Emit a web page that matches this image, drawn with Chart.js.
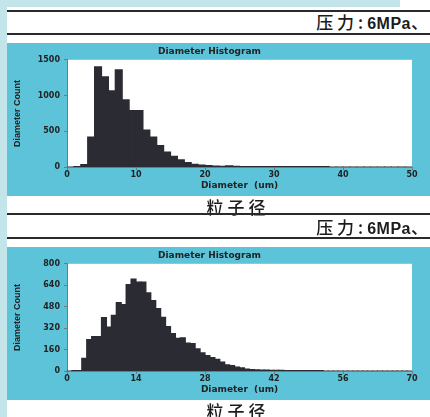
<!DOCTYPE html>
<html>
<head>
<meta charset="utf-8">
<script src="https://cdn.jsdelivr.net/npm/chart.js@4.4.1/dist/chart.umd.min.js"></script>
<style>
  html, body { margin: 0; padding: 0; }
  body { width: 430px; height: 417px; overflow: hidden; position: relative; background: #ffffff; }
  .edgeTop { position: absolute; left: 0; top: 0; width: 400px; height: 7px; background: #c3e4e9; }
  .edgeLeft { position: absolute; left: 0; top: 0; width: 7px; height: 417px; background: #c3e4e9; }
  .rule { position: absolute; left: 7px; width: 423px; height: 2px; background: #2a2a2a; }
  .press { position: absolute; right: 2px; height: 22px; line-height: 22px; font-size: 17px; color: #1c1c1c;
           font-family: "Noto Sans CJK SC", sans-serif; font-weight: 500; }
  .press .cjk { letter-spacing: 4px; }
  .press b { font-family: "Liberation Sans", Arial, sans-serif; font-weight: bold; font-size: 16px; letter-spacing: 0.5px; }
  .panel { position: absolute; left: 7px; width: 423px; height: 153px; background: #5dc3d9; }
  .label { position: absolute; left: 7px; width: 462px; text-align: center; font-size: 17px; line-height: 20px;
           letter-spacing: 4px; color: #1c1c1c; font-family: "Noto Sans CJK SC", sans-serif; font-weight: 500; }
</style>
</head>
<body>
<div class="edgeTop"></div>
<div class="edgeLeft"></div>

<div class="rule" style="top:10px"></div>
<div class="press" style="top:11px"><span class="cjk">压力:</span><b>6MPa</b>、</div>
<div class="rule" style="top:33px"></div>
<div class="panel" style="top:43px"><canvas id="chart1" width="423" height="153"></canvas></div>
<div class="label" style="top:197px">粒子径</div>

<div class="rule" style="top:213px"></div>
<div class="press" style="top:216px"><span class="cjk">压力:</span><b>6MPa</b>、</div>
<div class="rule" style="top:237px"></div>
<div class="panel" style="top:247px"><canvas id="chart2" width="423" height="153"></canvas></div>
<div class="label" style="top:401px">粒子径</div>

<script>
// histogram 1: 1 um bins from 0 to 50
const counts1 = [0, 3, 35, 420, 1400, 1260, 1065, 1360, 940, 790,
                 790, 515, 420, 300, 210, 150, 100, 60, 38, 25,
                 18, 12, 8, 15, 8, 5, 4, 3, 3, 4,
                 2, 2, 2, 1, 1, 1, 1, 1, 0, 0,
                 0, 0, 0, 0, 0, 0, 0, 0, 0, 0];
const yTicks1 = [0, 500, 1000, 1500];
const xTicks1 = [0, 10, 20, 30, 40, 50];

// histogram 2: 1 um bins from 0 to 70
const counts2 = [0, 2, 3, 95, 234, 257, 257, 399, 327, 416,
                 511, 495, 645, 685, 663, 663, 584, 526, 466, 401,
                 332, 279, 244, 247, 209, 204, 165, 135, 115, 100,
                 87, 67, 45, 40, 30, 24, 15, 10, 8, 7,
                 6, 5, 4, 4, 3, 2, 2, 1, 1, 1,
                 1, 1, 0, 0, 0, 0, 0, 0, 0, 0,
                 0, 0, 0, 0, 0, 0, 0, 0, 0, 0];
const yTicks2 = [0, 160, 320, 480, 640, 800];
const xTicks2 = [0, 14, 28, 42, 56, 70];

const titleText = 'Diameter Histogram';
const xTitle = 'Diameter  (um)';
const yTitle = 'Diameter Count';

// fondo blanco del área de trazado
const plotBg = {
  id: 'plotBg',
  beforeDraw(chart) {
    const { ctx, chartArea: a } = chart;
    ctx.save();
    ctx.fillStyle = '#ffffff';
    ctx.fillRect(a.left, a.top, a.right - a.left, a.bottom - a.top);
    ctx.restore();
  }
};

function makeHist(id, counts, xTicks, yTicks) {
  const data = counts.map((c, i) => ({ x: i + 0.5, y: c }));
  const tickFont = { family: 'DejaVu Sans', size: 8, weight: 'bold' };
  return new Chart(document.getElementById(id), {
    type: 'bar',
    data: {
      datasets: [{
        data: data,
        backgroundColor: '#2b2b33',
        borderWidth: 0,
        inflateAmount: 0.6,
        barPercentage: 1,
        categoryPercentage: 1
      }]
    },
    options: {
      responsive: false,
      animation: false,
      layout: { padding: { left: 0, right: 18, top: 0, bottom: 0 } },
      plugins: {
        legend: { display: false },
        tooltip: { enabled: false },
        title: {
          display: true,
          text: titleText,
          color: '#222',
          font: { family: 'DejaVu Sans', size: 9, weight: 'bold' },
          padding: { top: 3, bottom: 3 }
        }
      },
      scales: {
        x: {
          type: 'linear',
          offset: false,
          min: xTicks[0],
          max: xTicks[xTicks.length - 1],
          afterBuildTicks: s => { s.ticks = xTicks.map(v => ({ value: v })); },
          afterFit: s => { s.height = 29; },
          grid: { display: true, drawOnChartArea: false, tickLength: 3, color: '#777', offset: false },
          border: { color: '#777' },
          ticks: { color: '#222', font: tickFont, padding: 0, maxRotation: 0, callback: v => String(v) },
          title: {
            display: true, text: xTitle, color: '#222',
            font: { family: 'DejaVu Sans', size: 9, weight: 'bold' },
            padding: { top: 0, bottom: 5 }
          }
        },
        y: {
          min: yTicks[0],
          max: yTicks[yTicks.length - 1],
          afterBuildTicks: s => { s.ticks = yTicks.map(v => ({ value: v })); },
          afterFit: s => { s.width = 60; },
          grid: { display: true, drawOnChartArea: false, tickLength: 3, color: '#777' },
          border: { color: '#777' },
          ticks: { color: '#222', font: tickFont, padding: 4, callback: v => String(v) },
          title: {
            display: true, text: yTitle, color: '#222',
            font: { family: 'Liberation Sans', size: 9, weight: 'bold' },
            padding: { top: 5, bottom: 0 }
          }
        }
      }
    },
    plugins: [plotBg]
  });
}

makeHist('chart1', counts1, xTicks1, yTicks1);
makeHist('chart2', counts2, xTicks2, yTicks2);
</script>
</body>
</html>
